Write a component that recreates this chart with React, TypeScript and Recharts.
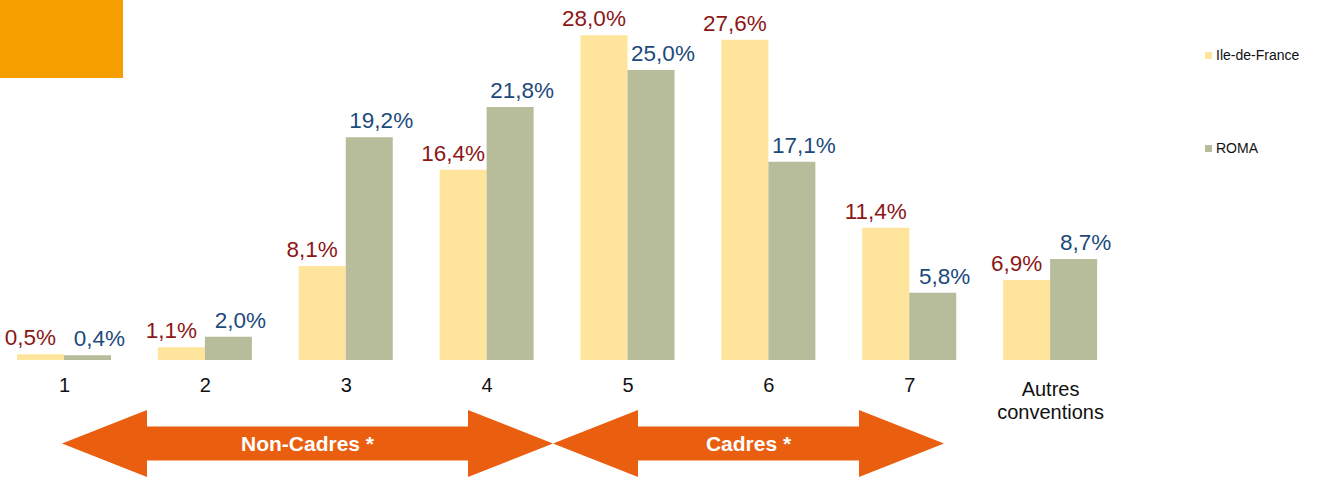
import React from 'react'
import { BarChart, Bar, XAxis, YAxis, LabelList } from 'recharts'

const categories = ['1', '2', '3', '4', '5', '6', '7', 'Autres conventions']
const ileDeFrance = [0.5, 1.1, 8.1, 16.4, 28.0, 27.6, 11.4, 6.9]
const roma = [0.4, 2.0, 19.2, 21.8, 25.0, 17.1, 5.8, 8.7]
const seriesNames = ['Ile-de-France', 'ROMA']
const arrowLabels = ['Non-Cadres *', 'Cadres *']

const YELLOW = '#FFE49B'
const GREEN = '#B7BC9A'
const RED_TXT = '#8B1717'
const BLUE_TXT = '#1C4A7C'
const ORANGE = '#E95E0F'
const FONT = '"Liberation Sans", Arial, sans-serif'

const chartData = categories.map((cat, i) => ({
  cat,
  idf: ileDeFrance[i],
  roma: roma[i],
}))

const fmt = (v: number) => v.toFixed(1).replace('.', ',') + '%'

function makeLabel(color: string, dx: number) {
  return (props: any) => {
    const { x, y, width, value } = props
    return (
      <text
        x={x + width / 2 + dx}
        y={y - 9}
        textAnchor="middle"
        fill={color}
        fontSize={22.5}
        fontFamily={FONT}
      >
        {fmt(value)}
      </text>
    )
  }
}

function CategoryTick(props: any) {
  const { x, y, payload } = props
  const words = String(payload.value).split(' ')
  if (words.length > 1) {
    return (
      <text x={x} y={y} textAnchor="middle" fill="#111" fontSize={20} fontFamily={FONT}>
        <tspan x={x} dy={36}>{words[0]}</tspan>
        <tspan x={x} dy={23}>{words[1]}</tspan>
      </text>
    )
  }
  return (
    <text x={x} y={y + 32} textAnchor="middle" fill="#111" fontSize={20} fontFamily={FONT}>
      {payload.value}
    </text>
  )
}

function doubleArrow(x1: number, x2: number, cy: number) {
  const head = 85
  const shaft = 17
  const half = 33.5
  return [
    [x1, cy],
    [x1 + head, cy - half],
    [x1 + head, cy - shaft],
    [x2 - head, cy - shaft],
    [x2 - head, cy - half],
    [x2, cy],
    [x2 - head, cy + half],
    [x2 - head, cy + shaft],
    [x1 + head, cy + shaft],
    [x1 + head, cy + half],
  ]
    .map(p => p.join(','))
    .join(' ')
}

const arrows = [
  { from: 62, to: 553 },
  { from: 553, to: 944 },
]

export default function App() {
  return (
    <div
      style={{
        position: 'absolute',
        left: 0,
        top: 0,
        width: 1320,
        height: 477,
        overflow: 'hidden',
        background: '#fff',
        fontFamily: FONT,
      }}
    >
      {/* orange corner block */}
      <div style={{ position: 'absolute', left: 0, top: 0, width: 123, height: 78, background: '#F69E00' }} />

      <div style={{ position: 'absolute', left: -6, top: 0 }}>
        <BarChart
          width={1127}
          height={440}
          data={chartData}
          margin={{ top: 12, right: 0, left: 0, bottom: 0 }}
          barCategoryGap={23}
          barGap={0}
        >
          <XAxis
            dataKey="cat"
            axisLine={false}
            tickLine={false}
            tickSize={0}
            tickMargin={0}
            height={80}
            interval={0}
            tick={<CategoryTick />}
          />
          <YAxis hide domain={[0, 30]} />
          <Bar dataKey="idf" name={seriesNames[0]} fill={YELLOW} isAnimationActive={false}>
            <LabelList dataKey="idf" content={makeLabel(RED_TXT, -10)} />
          </Bar>
          <Bar dataKey="roma" name={seriesNames[1]} fill={GREEN} isAnimationActive={false}>
            <LabelList dataKey="roma" content={makeLabel(BLUE_TXT, 12)} />
          </Bar>
        </BarChart>
      </div>

      {/* legend */}
      {[YELLOW, GREEN].map((c, i) => (
        <div
          key={seriesNames[i]}
          style={{
            position: 'absolute',
            left: 1205,
            top: i === 0 ? 46 : 139,
            display: 'flex',
            alignItems: 'center',
            fontSize: 14,
            color: '#111',
            lineHeight: '18px',
          }}
        >
          <span style={{ width: 7, height: 7, background: c, marginRight: 4, display: 'inline-block' }} />
          {seriesNames[i]}
        </div>
      ))}

      {/* category group arrows */}
      <svg width={1320} height={477} style={{ position: 'absolute', left: 0, top: 0 }}>
        {arrows.map((a, i) => (
          <g key={arrowLabels[i]}>
            <polygon points={doubleArrow(a.from, a.to, 443.5)} fill={ORANGE} />
            <text
              x={(a.from + a.to) / 2}
              y={451}
              textAnchor="middle"
              fill="#fff"
              fontSize={21}
              fontWeight="bold"
              fontFamily={FONT}
            >
              {arrowLabels[i]}
            </text>
          </g>
        ))}
      </svg>
    </div>
  )
}
